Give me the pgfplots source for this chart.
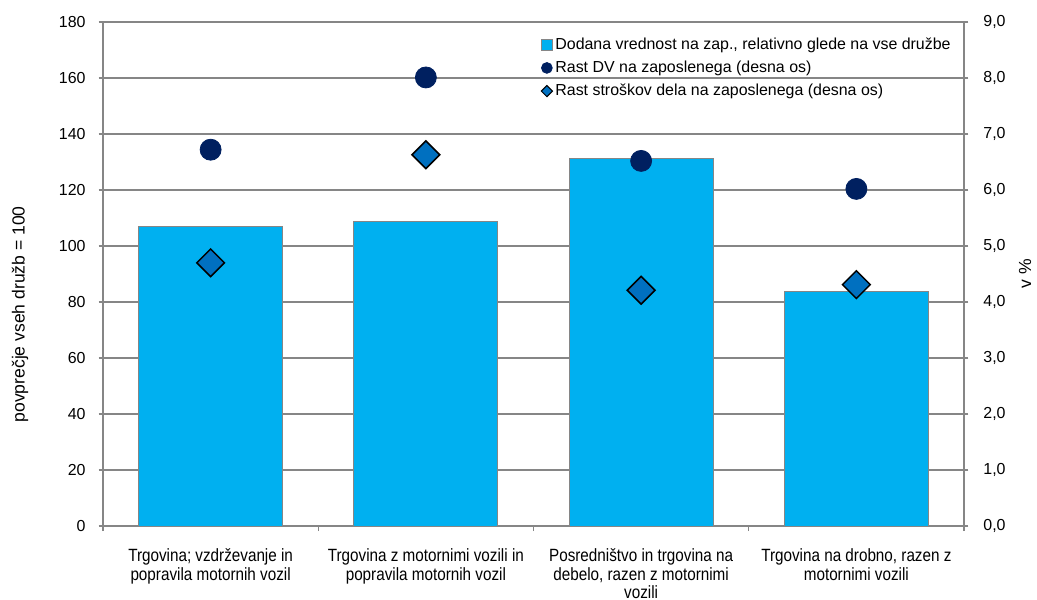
\documentclass[border=0pt]{standalone}
\usepackage{pgfplots}
\pgfplotsset{compat=1.18}
\usepackage{pgfplotstable}
\usepackage{fontspec}
\setmainfont{Liberation Sans}
\newfontfamily\narrowfont[FakeStretch=0.86]{Liberation Sans}
\definecolor{barblue}{HTML}{00B0F0}
\definecolor{navy}{HTML}{002060}
\definecolor{dblue}{HTML}{0070C0}
\definecolor{axgray}{HTML}{868686}

\pgfplotstableread{
x bar dv sd
0 106.8 6.72 4.70
1 108.9 8.01 6.63
2 131.4 6.52 4.21
3 83.9 6.02 4.31
}\data

\begin{document}
\begin{tikzpicture}
\pgfplotsset{every axis/.append style={
  scale only axis, width=430.5bp, height=252bp,
  xmin=-0.5, xmax=3.5,
  font=\fontsize{8}{9.6}\selectfont,
  /pgf/number format/assume math mode=true,
  tick align=outside,
  major tick length=2.2bp, minor tick length=2.5bp,
  every tick/.style={axgray, line width=0.6bp},
  axis line style={axgray, line width=0.6bp},
}}
\begin{axis}[
  name=ax,
  ymin=0, ymax=180, ytick distance=20,
  ytick pos=left, xtick pos=bottom,
  yticklabel style={xshift=-3bp},
  ymajorgrids, grid style={axgray, line width=0.6bp},
  xtick={0,1,2,3},
  xticklabels={{Trgovina; vzdrževanje in\\popravila motornih vozil},
               {Trgovina z motornimi vozili in\\popravila motornih vozil},
               {Posredništvo in trgovina na\\debelo, razen z motornimi\\vozili},
               {Trgovina na drobno, razen z\\motornimi vozili}},
  xticklabel style={align=center, font=\narrowfont\fontsize{8.9}{9.4}\selectfont, anchor=north, yshift=-5.5bp},
  major x tick style={draw=none},
  minor xtick={-0.5,0.5,1.5,2.5,3.5},
  ylabel={povprečje vseh družb = 100},
  ylabel style={at={(rel axis cs:0,0.42)}, anchor=center, yshift=41.5bp, font=\fontsize{8.8}{10}\selectfont},
]
\addplot[ybar, bar width=72bp, fill=barblue, draw=axgray, line width=0.5bp] table[x=x,y=bar]{\data};
\coordinate (bl) at (rel axis cs:0,0);
\coordinate (tr) at (rel axis cs:1,1);
\end{axis}
\begin{axis}[
  axis y line*=right, axis x line=none,
  ymin=0, ymax=9, ytick distance=1,
  yticklabel style={xshift=4bp, /pgf/number format/.cd, use comma, fixed, fixed zerofill, precision=1},
  ylabel={v \%},
  ylabel style={at={(rel axis cs:1,0.5)}, anchor=center, yshift=-30.5bp, font=\fontsize{8.8}{10}\selectfont},
  legend style={at={(rel axis cs:0.508,0.978)}, anchor=north west, draw=none, fill=none,
    font=\fontsize{8}{9.6}\selectfont, row sep=0.3bp, inner sep=0pt, nodes={inner xsep=1.2bp}},
  legend cell align=left,
  legend image code/.code={\draw[#1] (0bp,-2.6bp) rectangle (5.2bp,2.6bp);},
]
\addlegendimage{fill=barblue, draw=axgray, line width=0.4bp}
\addlegendentry{Dodana vrednost na zap., relativno glede na vse družbe}
\addlegendimage{legend image code/.code={\fill[navy] (2.6bp,0) circle (2.7bp);}}
\addlegendentry{Rast DV na zaposlenega (desna os)}
\addlegendimage{legend image code/.code={\draw[fill=dblue, draw=black, line width=0.5bp] (2.6bp,-2.8bp) -- (5.4bp,0) -- (2.6bp,2.8bp) -- (-0.2bp,0) -- cycle;}}
\addlegendentry{Rast stroškov dela na zaposlenega (desna os)}
\addplot[only marks, mark=*, mark size=5.25bp, mark options={fill=navy, draw=navy}, forget plot] table[x=x,y=dv]{\data};
\addplot[only marks, mark=square*, mark size=4.9bp, mark options={rotate=45, fill=dblue, draw=black, line width=0.75bp}, forget plot] table[x=x,y=sd]{\data};
\end{axis}
\pgfresetboundingbox
\path[use as bounding box] ([shift={(-51.5bp,-37bp)}]bl) rectangle ([shift={(36.5bp,11bp)}]tr);
\end{tikzpicture}
\end{document}
